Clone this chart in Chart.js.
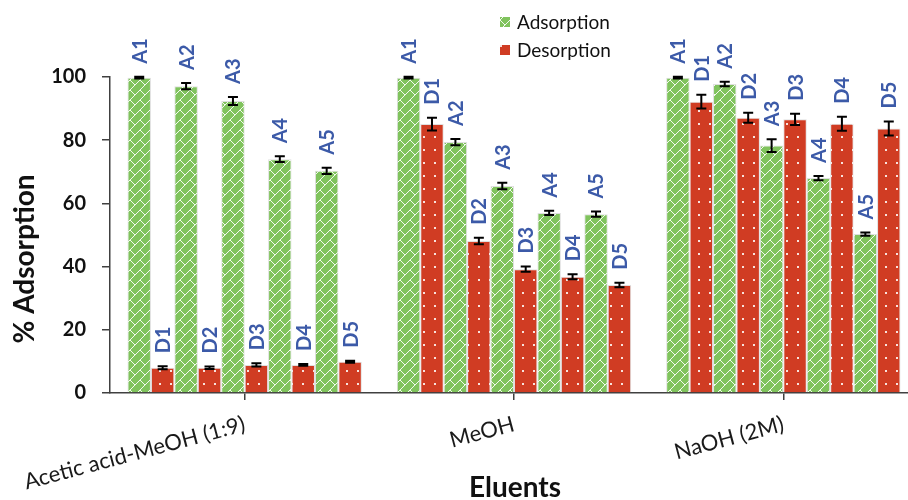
<!DOCTYPE html>
<html>
<head>
<meta charset="utf-8">
<script src="https://cdn.jsdelivr.net/npm/chart.js@4.4.1/dist/chart.umd.min.js"></script>
<style>
  html, body { margin: 0; padding: 0; background: #fff; overflow: hidden; }
  #wrap { width: 918px; height: 500px; position: relative; }
</style>
</head>
<body>
<div id="wrap"><canvas id="chart"></canvas></div>
<script>
// Data
const groups = ['Acetic acid-MeOH (1:9)', 'MeOH', 'NaOH (2M)'];
const cycles = ['1', '2', '3', '4', '5'];

const adsAcetic = [99.8, 97.1, 92.4, 74.0, 70.3];
const desAcetic = [8.0, 8.0, 8.9, 8.9, 9.9];
const adsMeOH = [99.8, 79.4, 65.5, 57.0, 56.6];
const desMeOH = [85.1, 48.1, 39.2, 36.8, 34.2];
const adsNaOH = [99.8, 97.8, 78.3, 68.0, 50.3];
const desNaOH = [92.2, 87.1, 86.6, 85.2, 83.7];

const errAdsAcetic = [0.3, 1.0, 1.3, 0.9, 1.0];
const errDesAcetic = [0.5, 0.4, 0.5, 0.3, 0.3];
const errAdsMeOH = [0.3, 1.0, 1.0, 0.7, 0.8];
const errDesMeOH = [2.0, 1.0, 0.8, 0.8, 0.7];
const errAdsNaOH = [0.3, 0.7, 2.0, 0.7, 0.5];
const errDesNaOH = [2.2, 1.6, 1.8, 2.2, 2.2];

const yTicks = [0, 20, 40, 60, 80, 100];

const green = '#80c35d';
const red = '#d03c23';
const labelBlue = '#3c5aa8';

// Fill patterns like the Excel ones
function brickPattern() {
    const c = document.createElement('canvas');
    c.width = 10; c.height = 10;
    const g = c.getContext('2d');
    g.fillStyle = green;
    g.fillRect(0, 0, 10, 10);
    g.strokeStyle = 'rgba(255,255,255,0.9)';
    g.lineWidth = 1;
    g.beginPath();
    g.moveTo(-1, 11); g.lineTo(11, -1);
    g.moveTo(0, 0); g.lineTo(5, 5);
    g.stroke();
    return g.createPattern(c, 'repeat');
}

function dotPattern() {
    const c = document.createElement('canvas');
    c.width = 11; c.height = 13;
    const g = c.getContext('2d');
    g.fillStyle = red;
    g.fillRect(0, 0, 11, 13);
    g.fillStyle = 'rgba(255,255,255,0.85)';
    g.fillRect(5, 6, 2, 2);
    return g.createPattern(c, 'repeat');
}

const greenFill = brickPattern();
const redFill = dotPattern();

// One dataset per bar position: A1, D1, A2, D2, ...
const datasets = [];
cycles.forEach((c, k) => {
    datasets.push({
        label: 'A' + c,
        data: [adsAcetic[k], adsMeOH[k], adsNaOH[k]],
        err: [errAdsAcetic[k], errAdsMeOH[k], errAdsNaOH[k]],
        backgroundColor: greenFill,
        borderColor: 'rgba(220,220,220,0.9)',
        borderWidth: 1
    });
    datasets.push({
        label: 'D' + c,
        data: [desAcetic[k], desMeOH[k], desNaOH[k]],
        err: [errDesAcetic[k], errDesMeOH[k], errDesNaOH[k]],
        backgroundColor: redFill,
        borderColor: 'rgba(220,220,220,0.9)',
        borderWidth: 1
    });
});

// Error bars and the rotated bar labels
const barExtras = {
    id: 'barExtras',
    afterDatasetsDraw(chart) {
        const ctx = chart.ctx;
        const y = chart.scales.y;
        ctx.save();
        chart.data.datasets.forEach((ds, i) => {
            const meta = chart.getDatasetMeta(i);
            meta.data.forEach((bar, j) => {
                const v = ds.data[j];
                const e = ds.err[j];
                const top = y.getPixelForValue(v + e);
                const bot = y.getPixelForValue(v - e);
                ctx.strokeStyle = '#000';
                ctx.lineWidth = 2;
                ctx.beginPath();
                ctx.moveTo(bar.x, top); ctx.lineTo(bar.x, bot);
                ctx.moveTo(bar.x - 5, top); ctx.lineTo(bar.x + 5, top);
                ctx.moveTo(bar.x - 5, bot); ctx.lineTo(bar.x + 5, bot);
                ctx.stroke();

                ctx.save();
                ctx.translate(bar.x, top - 13);
                ctx.rotate(-Math.PI / 2);
                ctx.fillStyle = labelBlue;
                ctx.font = 'bold 20px Lato';
                ctx.textAlign = 'left';
                ctx.textBaseline = 'middle';
                ctx.fillText(ds.label, 0, 1);
                ctx.restore();
            });
        });
        ctx.restore();
    }
};

// Legend stacked in two rows, plus the two axis titles
const extraText = {
    id: 'extraText',
    afterDraw(chart) {
        const ctx = chart.ctx;
        const items = [['Adsorption', greenFill, 22], ['Desorption', redFill, 50]];
        ctx.save();
        items.forEach(it => {
            ctx.fillStyle = it[1];
            ctx.fillRect(500, it[2] - 5, 10, 10);
            ctx.fillStyle = '#111';
            ctx.font = '19px Lato';
            ctx.textAlign = 'left';
            ctx.textBaseline = 'middle';
            ctx.fillText(it[0], 517, it[2] + 1);
        });

        ctx.fillStyle = '#111';
        ctx.font = 'bold 28px Lato';
        ctx.textAlign = 'center';
        ctx.textBaseline = 'middle';
        ctx.fillText('Eluents', 515, 488);

        ctx.translate(25, 259);
        ctx.rotate(-Math.PI / 2);
        ctx.fillText('% Adsorption', 0, 0);
        ctx.restore();
    }
};

new Chart(document.getElementById('chart'), {
    type: 'bar',
    data: { labels: groups, datasets: datasets },
    plugins: [barExtras, extraText],
    options: {
        responsive: true,
        maintainAspectRatio: false,
        animation: false,
        layout: { padding: { top: 77, right: 0, left: 0, bottom: 0 } },
        datasets: { bar: { categoryPercentage: 0.87, barPercentage: 1.0 } },
        plugins: {
            legend: { display: false },
            tooltip: { enabled: false }
        },
        scales: {
            x: {
                grid: {
                    offset: false,
                    drawOnChartArea: false,
                    drawTicks: true,
                    tickLength: 7,
                    color: '#404040',
                    lineWidth: 1.5
                },
                border: { color: '#404040', width: 1.5 },
                ticks: {
                    color: '#1a1a1a',
                    font: { family: 'Lato', size: 22 },
                    minRotation: 15,
                    maxRotation: 15,
                    padding: 11
                },
                afterFit(scale) {
                    scale.height = 107;
                    // rotated first label hangs left; do not let it squeeze the plot
                    scale.paddingLeft = 0;
                    scale.paddingRight = 0;
                }
            },
            y: {
                min: 0,
                max: 100,
                afterBuildTicks(scale) { scale.ticks = yTicks.map(v => ({ value: v })); },
                grid: {
                    drawOnChartArea: false,
                    drawTicks: true,
                    tickLength: 8,
                    color: '#404040',
                    lineWidth: 1.5
                },
                border: { color: '#404040', width: 1.5 },
                ticks: {
                    color: '#111',
                    font: { family: 'Lato', size: 20, weight: 'bold' },
                    padding: 16
                },
                afterFit(scale) { scale.width = 110; }
            }
        }
    }
});
</script>
</body>
</html>
